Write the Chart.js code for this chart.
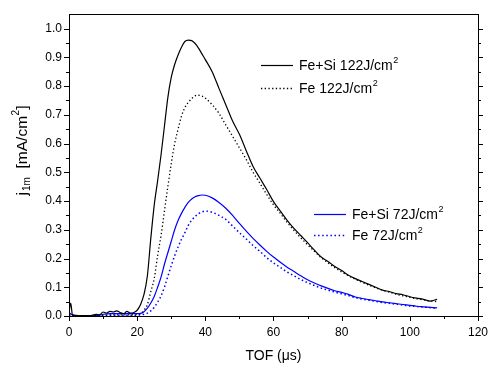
<!DOCTYPE html>
<html>
<head>
<meta charset="utf-8">
<script src="https://cdn.jsdelivr.net/npm/chart.js@4"></script>
<style>
  html, body { margin: 0; padding: 0; background: #fff; }
  #wrap { width: 497px; height: 367px; }
</style>
</head>
<body>
<div id="wrap"><canvas id="chart"></canvas></div>
<script>
// Time of flight grid (µs)
const tof = [0, 0.5, 1, 2, 4, 6, 8,
  9, 10, 11, 12, 13, 14, 15, 16, 17, 18, 19, 20, 21, 22, 23, 24, 25, 26, 27, 28, 29, 30,
  31, 32, 33, 34, 35, 36, 37, 38, 39, 40,
  42, 44, 46, 48, 50, 52, 54, 56, 58, 60, 62, 64, 66, 68, 70, 72, 74, 76, 78, 80,
  82, 84, 86, 88, 90, 92, 94, 96, 98, 100, 102, 104, 106, 108];

// ion current density j1m (mA/cm2)
const feSi122 = [0.01, 0.045, 0.005, 0.002, 0.001, 0.001, 0.006,
  0.004, 0.014, 0.01, 0.016, 0.014, 0.018, 0.012, 0.008, 0.016, 0.01, 0.012, 0.02, 0.04, 0.075, 0.14, 0.27, 0.385, 0.47, 0.56, 0.66, 0.76, 0.83,
  0.875, 0.908, 0.935, 0.955, 0.96, 0.958, 0.948, 0.932, 0.912, 0.892,
  0.85, 0.792, 0.735, 0.678, 0.632, 0.575, 0.52, 0.48, 0.44, 0.398, 0.365, 0.333, 0.305, 0.28, 0.255, 0.229, 0.205, 0.19, 0.172, 0.158,
  0.142, 0.13, 0.12, 0.11, 0.1, 0.09, 0.085, 0.078, 0.074, 0.067, 0.062, 0.058, 0.052, 0.058];

const fe122 = [0.002, 0.004, 0.002, 0.001, 0.001, 0.001, 0.002,
  0.002, 0.003, 0.003, 0.004, 0.004, 0.004, 0.004, 0.004, 0.004, 0.004, 0.004, 0.005, 0.008, 0.02, 0.04, 0.085, 0.13, 0.21, 0.28, 0.365, 0.45, 0.53,
  0.6, 0.65, 0.695, 0.725, 0.743, 0.756, 0.766, 0.768, 0.765, 0.758,
  0.735, 0.705, 0.665, 0.625, 0.585, 0.545, 0.5, 0.462, 0.423, 0.387, 0.357, 0.326, 0.298, 0.272, 0.248, 0.225, 0.203, 0.185, 0.168, 0.153,
  0.14, 0.128, 0.117, 0.107, 0.098, 0.09, 0.083, 0.076, 0.07, 0.065, 0.06, 0.056, 0.052, 0.05];

const feSi72 = [0.012, 0.008, 0.003, 0.001, 0.001, 0.001, 0.002,
  0.003, 0.006, 0.007, 0.008, 0.008, 0.008, 0.008, 0.008, 0.008, 0.008, 0.008, 0.008, 0.009, 0.015, 0.027, 0.045, 0.068, 0.1, 0.135, 0.18, 0.22, 0.26,
  0.3, 0.332, 0.357, 0.378, 0.395, 0.407, 0.415, 0.419, 0.421, 0.42,
  0.411, 0.395, 0.375, 0.35, 0.322, 0.295, 0.27, 0.247, 0.225, 0.205, 0.187, 0.17, 0.155, 0.14, 0.126, 0.115, 0.105, 0.096, 0.088, 0.082,
  0.075, 0.066, 0.061, 0.057, 0.053, 0.049, 0.046, 0.043, 0.04, 0.037, 0.034, 0.032, 0.03, 0.028];

const fe72 = [0.004, 0.003, 0.002, 0.001, 0.001, 0.001, 0.001,
  0.002, 0.002, 0.002, 0.003, 0.003, 0.003, 0.003, 0.003, 0.003, 0.003, 0.003, 0.003, 0.004, 0.006, 0.01, 0.018, 0.03, 0.048, 0.07, 0.1, 0.138, 0.175,
  0.21, 0.24, 0.267, 0.29, 0.315, 0.333, 0.346, 0.356, 0.362, 0.365,
  0.361, 0.35, 0.336, 0.313, 0.29, 0.268, 0.245, 0.225, 0.203, 0.185, 0.169, 0.153, 0.14, 0.127, 0.116, 0.106, 0.097, 0.09, 0.083, 0.077,
  0.071, 0.064, 0.059, 0.055, 0.051, 0.047, 0.044, 0.041, 0.038, 0.035, 0.033, 0.031, 0.029, 0.027];

const seriesLabels = ['Fe+Si 122J/cm²', 'Fe 122J/cm²', 'Fe+Si 72J/cm²', 'Fe 72J/cm²'];

const FONT = 'Arial, "Liberation Sans", sans-serif';

function toPoints(ys) {
  return tof.map((t, i) => ({ x: t, y: ys[i] }));
}

// draw a string where "²" becomes a small raised 2
function drawRich(ctx, text, x, y, size) {
  const parts = text.split('²');
  let cx = x;
  parts.forEach((p, i) => {
    ctx.font = size + 'px ' + FONT;
    ctx.fillText(p, cx, y);
    cx += ctx.measureText(p).width;
    if (i < parts.length - 1) {
      ctx.font = Math.round(size * 0.62) + 'px ' + FONT;
      ctx.fillText('2', cx + 0.5, y - size * 0.42);
      cx += ctx.measureText('2').width + 0.5;
    }
  });
}

// Frame, tick marks, legends and y title (Origin style)
const originStyle = {
  id: 'originStyle',
  afterDraw(chart) {
    const ctx = chart.ctx;
    const a = chart.chartArea;
    const xs = chart.scales.x;
    const ys = chart.scales.y;
    ctx.save();
    ctx.strokeStyle = '#000';
    ctx.lineWidth = 1;
    ctx.strokeRect(Math.round(a.left) + 0.5, Math.round(a.top) + 0.5,
      Math.round(a.right - a.left), Math.round(a.bottom - a.top));

    ctx.beginPath();
    // x ticks (major 20, minor 10)
    for (let v = 0; v <= 120; v += 10) {
      const px = Math.round(xs.getPixelForValue(v)) + 0.5;
      const len = v % 20 === 0 ? 5 : 3;
      ctx.moveTo(px, a.bottom);
      ctx.lineTo(px, a.bottom + len);
    }
    // y ticks (major 0.1, minor 0.05) on left and right
    for (let k = 0; k <= 20; k++) {
      const py = Math.round(ys.getPixelForValue(k * 0.05)) + 0.5;
      const len = k % 2 === 0 ? 5 : 3;
      ctx.moveTo(a.left, py);
      ctx.lineTo(a.left - len, py);
      ctx.moveTo(a.right, py);
      ctx.lineTo(a.right + len, py);
    }
    ctx.stroke();

    // legends
    const ds = chart.data.datasets;
    const rows = [
      { i: 0, x: 261, y: 65 },
      { i: 1, x: 261, y: 88 },
      { i: 2, x: 314, y: 214 },
      { i: 3, x: 314, y: 235 }
    ];
    rows.forEach(r => {
      const d = ds[r.i];
      ctx.strokeStyle = d.borderColor;
      ctx.lineWidth = d.borderWidth;
      ctx.setLineDash(d.borderDash || []);
      ctx.beginPath();
      ctx.moveTo(r.x, r.y + 0.5);
      ctx.lineTo(r.x + 32, r.y + 0.5);
      ctx.stroke();
      ctx.setLineDash([]);
      ctx.fillStyle = '#000';
      ctx.textBaseline = 'middle';
      ctx.textAlign = 'left';
      drawRich(ctx, d.label, r.x + 38, r.y + 1, 14);
    });

    // y axis title: j with subscript 1m
    ctx.translate(23, 150);
    ctx.rotate(-Math.PI / 2);
    ctx.fillStyle = '#000';
    ctx.textBaseline = 'middle';
    const main = 15.5, sub = 10;
    ctx.font = main + 'px ' + FONT;
    const wj = ctx.measureText('j').width + 1;
    ctx.font = sub + 'px ' + FONT;
    const w1m = ctx.measureText('1m').width;
    ctx.font = main + 'px ' + FONT;
    const wRest = ctx.measureText('  [mA/cm]').width + 7;
    let cx = -(wj + w1m + wRest) / 2;
    ctx.fillText('j', cx, 0);
    cx += wj;
    ctx.font = sub + 'px ' + FONT;
    ctx.fillText('1m', cx, 4);
    cx += w1m;
    drawRich(ctx, '  [mA/cm²]', cx, 0, main);
    ctx.restore();
  }
};

const chart = new Chart(document.getElementById('chart'), {
  type: 'line',
  data: {
    datasets: [
      { label: seriesLabels[0], data: toPoints(feSi122), borderColor: '#000', borderWidth: 1.2 },
      { label: seriesLabels[1], data: toPoints(fe122), borderColor: '#000', borderWidth: 1.3, borderDash: [1.3, 2.4] },
      { label: seriesLabels[2], data: toPoints(feSi72), borderColor: '#0000ff', borderWidth: 1.2 },
      { label: seriesLabels[3], data: toPoints(fe72), borderColor: '#0000ff', borderWidth: 1.5, borderDash: [1.5, 2.6] }
    ]
  },
  options: {
    responsive: true,
    maintainAspectRatio: false,
    animation: false,
    events: [],
    elements: {
      point: { radius: 0 },
      line: { cubicInterpolationMode: 'monotone', fill: false }
    },
    layout: { padding: { top: 6, right: 13, left: 0, bottom: 0 } },
    plugins: {
      legend: { display: false },
      tooltip: { enabled: false }
    },
    scales: {
      x: {
        type: 'linear',
        min: 0,
        max: 120,
        grid: { display: false, drawTicks: false },
        border: { display: false },
        ticks: {
          stepSize: 20,
          padding: 9,
          color: '#000',
          font: { family: FONT, size: 12 }
        },
        title: {
          display: true,
          text: 'TOF (μs)',
          color: '#000',
          font: { family: FONT, size: 14 },
          padding: { top: 0, bottom: 2 }
        },
        afterFit(scale) { scale.height = 51; }
      },
      y: {
        min: 0,
        max: 1.05,
        grid: { display: false, drawTicks: false },
        border: { display: false },
        ticks: {
          stepSize: 0.1,
          padding: 7,
          color: '#000',
          font: { family: FONT, size: 12 },
          callback: v => v.toFixed(1)
        },
        afterBuildTicks(scale) {
          scale.ticks = scale.ticks.filter(t => t.value <= 1.0001);
        },
        afterFit(scale) { scale.width = 69; }
      }
    }
  },
  plugins: [originStyle]
});
</script>
</body>
</html>
